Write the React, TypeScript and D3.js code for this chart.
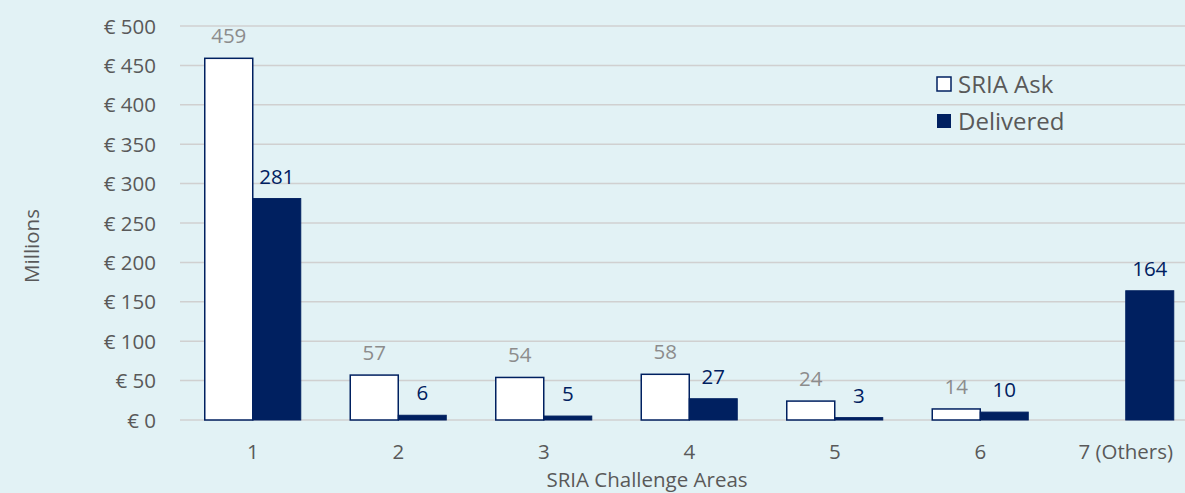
import React from "react";
import * as d3 from "d3";

const categories = ["1", "2", "3", "4", "5", "6", "7 (Others)"];
const sriaAsk: (number | null)[] = [459, 57, 54, 58, 24, 14, null];
const delivered: number[] = [281, 6, 5, 27, 3, 10, 164];
const yTicks = [0, 50, 100, 150, 200, 250, 300, 350, 400, 450, 500];

const W = 1185;
const H = 493;
const NAVY = "#002060";
const BG = "#E2F2F5";
const FONT = "'Open Sans', Lato, sans-serif";
const FS = 20.5;

export default function App() {
  const x = d3.scaleBand<string>().domain(categories).range([180, 1198.5]).paddingInner(0).paddingOuter(0);
  const y = d3.scaleLinear().domain([0, 500]).range([420, 26]);
  const bw = 48;

  return (
    <svg width={W} height={H} style={{ position: "absolute", left: 0, top: 0, background: BG }} fontFamily={FONT}>
      <rect x={0} y={0} width={W} height={H} fill={BG} />
      {yTicks.map((t) => (
        <g key={t}>
          <line x1={180} x2={W} y1={y(t)} y2={y(t)} stroke="#D0D0D0" strokeWidth={1.5} />
          <text x={156} y={y(t) + 7.5} textAnchor="end" fontSize={FS} fill="#595959">
            {"€ " + t}
          </text>
        </g>
      ))}
      {categories.map((c, i) => {
        const cx = (x(c) as number) + x.bandwidth() / 2;
        const a = sriaAsk[i];
        const d = delivered[i];
        return (
          <g key={c}>
            {a !== null && (
              <>
                <rect x={cx - bw} y={y(a)} width={bw} height={y(0) - y(a)} fill="#FFFFFF" stroke={NAVY} strokeWidth={1.5} />
                <text x={cx - bw / 2} y={y(a) - 15} textAnchor="middle" fontSize={FS} fill="#8C8C8C">
                  {a}
                </text>
              </>
            )}
            <rect x={cx} y={y(d)} width={bw} height={Math.max(y(0) - y(d), 1)} fill={NAVY} stroke={NAVY} strokeWidth={1} />
            <text x={cx + bw / 2} y={y(d) - 15} textAnchor="middle" fontSize={FS} fill={NAVY}>
              {d}
            </text>
            <text x={cx} y={459} textAnchor="middle" fontSize={FS} fill="#595959">
              {c}
            </text>
          </g>
        );
      })}
      <text x={647} y={487} textAnchor="middle" fontSize={FS} fill="#595959">
        SRIA Challenge Areas
      </text>
      <text transform={`translate(39,246) rotate(-90)`} textAnchor="middle" fontSize={FS} fill="#595959">
        Millions
      </text>
      <rect x={937} y={77} width={14} height={14} fill="#FFFFFF" stroke={NAVY} strokeWidth={1.5} />
      <text x={958} y={93} fontSize={24} fill="#595959">SRIA Ask</text>
      <rect x={937} y={114} width={14} height={14} fill={NAVY} />
      <text x={958} y={130} fontSize={24} fill="#595959">Delivered</text>
    </svg>
  );
}
